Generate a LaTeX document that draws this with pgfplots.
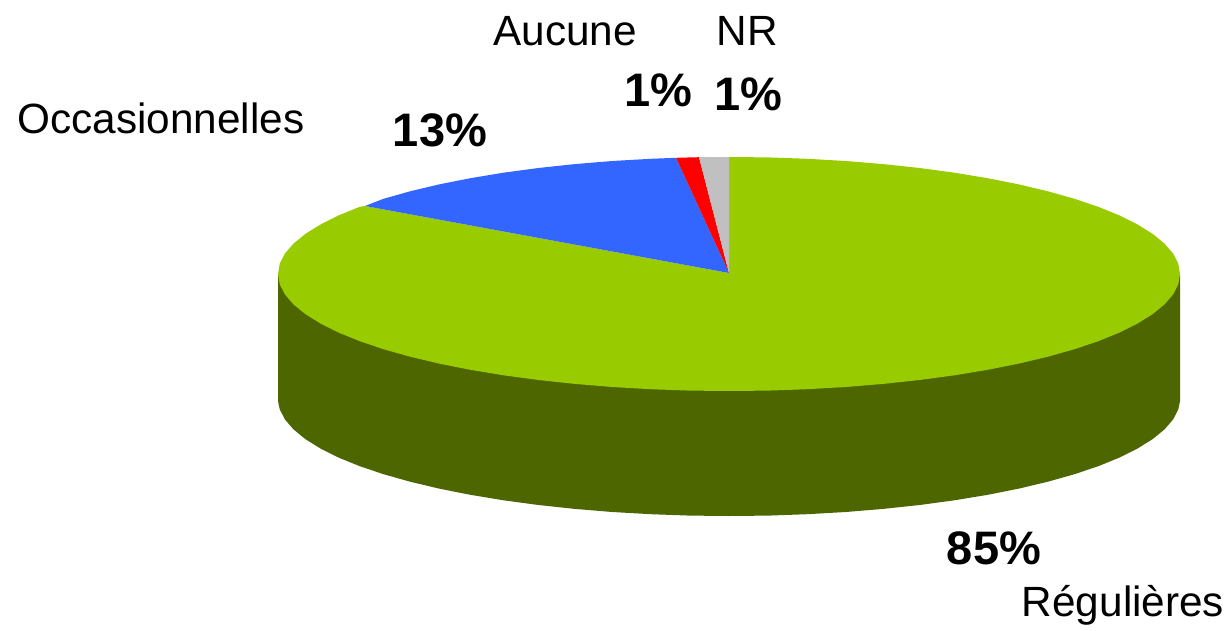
\documentclass[border=0pt]{standalone}
\usepackage{pgfplots}
\pgfplotsset{compat=1.18}
\usepackage{fontspec}
\setmainfont{Liberation Sans}
\definecolor{pgreen}{HTML}{99CC00}
\definecolor{pdark}{HTML}{4D6600}
\definecolor{pblue}{HTML}{3366FF}
\definecolor{pred}{HTML}{FF0000}
\definecolor{pgray}{HTML}{C0C0C0}
\newcommand{\lab}{\fontsize{42.3}{44}\selectfont}
\newcommand{\pct}{\fontsize{47}{49}\selectfont\bfseries}
\begin{document}
\begin{tikzpicture}
\begin{axis}[
  at={(0,0)}, anchor=south west,
  width=1230pt, height=631pt, scale only axis,
  xmin=0, xmax=1230, ymin=0, ymax=631, y dir=reverse,
  hide axis, clip=false]
\path (axis cs:0,0) -- (axis cs:1230,631);
% side wall
\addplot[draw=none, fill=pdark] coordinates {
(278,274)(278,401)(279.7,409.2)(284.8,419.3)(293.4,429.3)(305.2,439)(320.3,448.4)(338.4,457.5)(359.5,466.1)(383.5,474.2)(410.1,481.7)(439.1,488.6)(470.3,494.8)(503.5,500.3)(538.4,505)(574.8,508.9)(612.3,512)(650.7,514.2)(689.7,515.6)(729,516)
(768.3,515.6)(807.3,514.2)(845.7,512)(883.2,508.9)(919.6,505)(954.5,500.3)(987.7,494.8)(1018.9,488.6)(1047.9,481.7)(1074.5,474.2)(1098.5,466.1)(1119.6,457.5)(1137.7,448.4)(1152.8,439)(1164.6,429.3)(1173.2,419.3)(1178.3,409.2)(1180,401)(1180,274)} -- cycle;
% green top
\addplot[draw=none, fill=pgreen] coordinates {
(1180,274)(1178.3,284.2)(1173.2,294.3)(1164.6,304.3)(1152.8,314)(1137.7,323.4)(1119.6,332.5)(1098.5,341.1)(1074.5,349.2)(1047.9,356.7)(1018.9,363.6)(987.7,369.8)(954.5,375.3)(919.6,380)(883.2,383.9)(845.7,387)(807.3,389.2)(768.3,390.6)(729,391)
(689.7,390.6)(650.7,389.2)(612.3,387)(574.8,383.9)(538.4,380)(503.5,375.3)(470.3,369.8)(439.1,363.6)(410.1,356.7)(383.5,349.2)(359.5,341.1)(338.4,332.5)(320.3,323.4)(305.2,314)(293.4,304.3)(284.8,294.3)(279.7,284.2)(278,274)
(279.7,263.8)(284.8,253.7)(293.4,243.7)(305.2,234)(320.3,224.6)(338.4,215.5)(359.5,206.9)(365,206)(729,273)(729,157)
(768.3,157.4)(807.3,158.8)(845.7,161)(883.2,164.1)(919.6,168)(954.5,172.7)(987.7,178.2)(1018.9,184.4)(1047.9,191.3)(1074.5,198.8)(1098.5,206.9)(1119.6,215.5)(1137.7,224.6)(1152.8,234)(1164.6,243.7)(1173.2,253.7)(1178.3,263.8)} -- cycle;
% blue
\addplot[draw=none, fill=pblue] coordinates {
(729,273)(365,206)(383.5,198.8)(410.1,191.3)(439.1,184.4)(470.3,178.2)(503.5,172.7)(538.4,168)(574.8,164.1)(612.3,161)(650.7,158.8)(676,157.8)} -- cycle;
% red
\addplot[draw=none, fill=pred] coordinates {(729,273)(676,157.8)(699,157.2)} -- cycle;
% gray
\addplot[draw=none, fill=pgray] coordinates {(729,273)(699,157.2)(729,157)} -- cycle;
\node[anchor=center] at (axis cs:161,118) {\lab Occasionnelles};
\node[anchor=center] at (axis cs:565,31) {\lab Aucune};
\node[anchor=center] at (axis cs:747,31) {\lab NR};
\node[anchor=center] at (axis cs:1123,605) {\lab Régulières};
\node[anchor=center] at (axis cs:440,130) {\pct 13\%};
\node[anchor=center] at (axis cs:658,90) {\pct 1\%};
\node[anchor=center] at (axis cs:748,94) {\pct 1\%};
\node[anchor=center] at (axis cs:994,548) {\pct 85\%};
\end{axis}
\end{tikzpicture}
\end{document}
